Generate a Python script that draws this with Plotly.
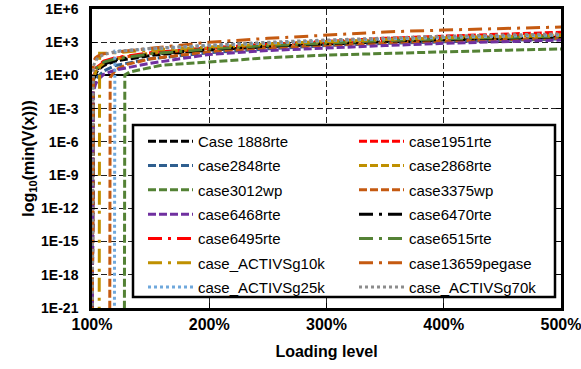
import plotly.graph_objects as go

FONT = "Liberation Sans, Arial, sans-serif"

# Loading levels (%) and log10(min V(x)) values; None = min V is zero (off the chart)
L_STD = [100, 101, 103, 105, 110, 120, 150, 200, 250, 300, 350, 400, 450, 500]

V_1888rte = [None, -0.6, 0.1, 0.5, 0.9, 1.3, 1.8, 2.3, 2.6, 2.85, 3.05, 3.2, 3.35, 3.45]
V_1951rte = [None, -0.3, 0.4, 0.8, 1.2, 1.55, 2.0, 2.45, 2.8, 3.1, 3.35, 3.55, 3.75, 3.9]
V_2848rte = [None, -1.2, -0.5, -0.1, 0.4, 0.9, 1.5, 2.05, 2.4, 2.7, 2.9, 3.05, 3.2, 3.3]
V_2868rte = [None, -0.4, 0.3, 0.7, 1.1, 1.5, 2.0, 2.5, 2.8, 3.05, 3.25, 3.4, 3.55, 3.65]
V_6468rte = [None, -1.5, -0.8, -0.4, 0.1, 0.5, 1.1, 1.9, 2.25, 2.5, 2.7, 2.9, 3.05, 3.2]
V_6470rte = [None, -0.5, 0.2, 0.6, 1.0, 1.4, 1.9, 2.35, 2.65, 2.9, 3.1, 3.25, 3.4, 3.5]
V_6495rte = [None, 0.0, 0.6, 0.9, 1.3, 1.6, 2.05, 2.5, 2.8, 3.0, 3.2, 3.35, 3.5, 3.6]
V_6515rte = [None, -0.2, 0.5, 0.8, 1.2, 1.5, 1.95, 2.4, 2.7, 2.95, 3.15, 3.3, 3.45, 3.55]
V_13659pegase = [None, 1.2, 1.6, 1.75, 1.95, 2.1, 2.45, 3.0, 3.35, 3.65, 3.93, 4.1, 4.24, 4.37]
V_ACTIVSg70k = [None, 0.8, 1.3, 1.6, 1.9, 2.15, 2.45, 2.75, 3.0, 3.2, 3.4, 3.55, 3.65, 3.75]

L_ACTIVSg10k = [106, 106.5, 110, 120, 150, 200, 250, 300, 350, 400, 450, 500]
V_ACTIVSg10k = [None, 2.0, 2.0, 2.05, 2.3, 2.6, 2.85, 3.05, 3.25, 3.4, 3.5, 3.6]

L_3375wp = [115, 115.5, 120, 130, 150, 200, 250, 300, 350, 400, 450, 500]
V_3375wp = [None, -0.2, 0.5, 1.0, 1.5, 2.15, 2.5, 2.75, 2.95, 3.1, 3.25, 3.35]

L_ACTIVSg25k = [119, 119.5, 130, 150, 200, 250, 300, 350, 400, 450, 500]
V_ACTIVSg25k = [None, 2.2, 2.25, 2.4, 2.7, 2.95, 3.15, 3.3, 3.45, 3.55, 3.65]

L_3012wp = [127.5, 128, 132, 160, 200, 250, 300, 350, 400, 450, 500]
V_3012wp = [None, 0.05, 0.31, 0.94, 1.21, 1.6, 1.84, 2.0, 2.12, 2.27, 2.39]

X_TICKS = [100, 200, 300, 400, 500]
X_TICK_TEXT = ["100%", "200%", "300%", "400%", "500%"]
Y_TICKS = [-21, -18, -15, -12, -9, -6, -3, 0, 3, 6]
Y_TICK_TEXT = ["1E-21", "1E-18", "1E-15", "1E-12", "1E-9", "1E-6", "1E-3", "1E+0", "1E+3", "1E+6"]

FLOOR = -30  # where a zero minimum is drawn (below the axis range)

DASH = "8px,3px"
LDD = "14px,6px,3px,6px"
DOT = "3px,3px"

series = [
    ("Case 1888rte", L_STD, V_1888rte, "#000000", DASH),
    ("case1951rte", L_STD, V_1951rte, "#FF0000", DASH),
    ("case2848rte", L_STD, V_2848rte, "#2F5F8F", DASH),
    ("case2868rte", L_STD, V_2868rte, "#BF9000", DASH),
    ("case3012wp", L_3012wp, V_3012wp, "#548235", DASH),
    ("case3375wp", L_3375wp, V_3375wp, "#C55A11", DASH),
    ("case6468rte", L_STD, V_6468rte, "#7030A0", DASH),
    ("case6470rte", L_STD, V_6470rte, "#000000", LDD),
    ("case6495rte", L_STD, V_6495rte, "#FF0000", LDD),
    ("case6515rte", L_STD, V_6515rte, "#548235", LDD),
    ("case_ACTIVSg10k", L_ACTIVSg10k, V_ACTIVSg10k, "#BF9000", LDD),
    ("case13659pegase", L_STD, V_13659pegase, "#C55A11", LDD),
    ("case_ACTIVSg25k", L_ACTIVSg25k, V_ACTIVSg25k, "#6FA8DC", DOT),
    ("case_ACTIVSg70k", L_STD, V_ACTIVSg70k, "#8C8C8C", DOT),
]

fig = go.Figure()
for i, (name, xs, vs, color, dash) in enumerate(series):
    leg = "legend" if i % 2 == 0 else "legend2"
    ys = [FLOOR if v is None else v for v in vs]
    fig.add_trace(go.Scatter(
        x=xs, y=ys, mode="lines", name=name, legend=leg, legendgroup=name,
        line=dict(color=color, width=3, dash=dash),
    ))

W, H = 581, 369
ML, MR, MT, MB = 92, 20, 9, 61
PW, PH = W - ML - MR, H - MT - MB


def px_x(p):
    return (p - ML) / PW


def px_y(p):
    return 1 - (p - MT) / PH


def col_legend(left_px):
    return dict(
        x=px_x(left_px), y=px_y(125), xanchor="left", yanchor="top",
        orientation="v", traceorder="grouped", tracegroupgap=1.8,
        bgcolor="rgba(0,0,0,0)", borderwidth=0, itemwidth=45,
        font=dict(family=FONT, size=15, color="#000"),
    )


fig.update_layout(
    width=W, height=H,
    margin=dict(l=ML, r=MR, t=MT, b=MB, pad=0),
    paper_bgcolor="white", plot_bgcolor="white",
    font=dict(family=FONT, color="#000"),
    showlegend=True,
    legend=col_legend(143),
    legend2=col_legend(354),
    shapes=[dict(
        type="rect", xref="paper", yref="paper",
        x0=px_x(133), x1=px_x(555), y0=px_y(297), y1=px_y(125),
        line=dict(color="black", width=2.5), fillcolor="white", layer="above",
    )],
)

fig.update_xaxes(
    range=[100, 500], tickvals=X_TICKS, ticktext=X_TICK_TEXT,
    tickfont=dict(family=FONT, size=16, weight="bold"),
    ticklabeloverflow="allow",
    showgrid=True, gridcolor="#222", gridwidth=1, griddash="6px,3px",
    showline=True, linecolor="black", linewidth=2.5, mirror=True,
    ticks="inside", ticklen=5, tickcolor="black", tickwidth=1,
    title=dict(text="<b>Loading level</b>", font=dict(family=FONT, size=16), standoff=14),
    zeroline=False, automargin=False,
)
fig.update_yaxes(
    range=[-21, 6], tickvals=Y_TICKS, ticktext=Y_TICK_TEXT,
    tickfont=dict(family=FONT, size=14, weight="bold"),
    ticklabeloverflow="allow", ticklabelstandoff=8,
    showgrid=True, gridcolor="#222", gridwidth=1, griddash="6px,3px",
    showline=True, linecolor="black", linewidth=2.5, mirror="ticks",
    ticks="inside", ticklen=5, tickcolor="black", tickwidth=1,
    zeroline=True, zerolinecolor="black", zerolinewidth=2,
    title=dict(text="<b>log<sub>10</sub>(min(V(x)))</b>", font=dict(family=FONT, size=16), standoff=3),
    automargin=False,
)

fig.write_html("out.html")
